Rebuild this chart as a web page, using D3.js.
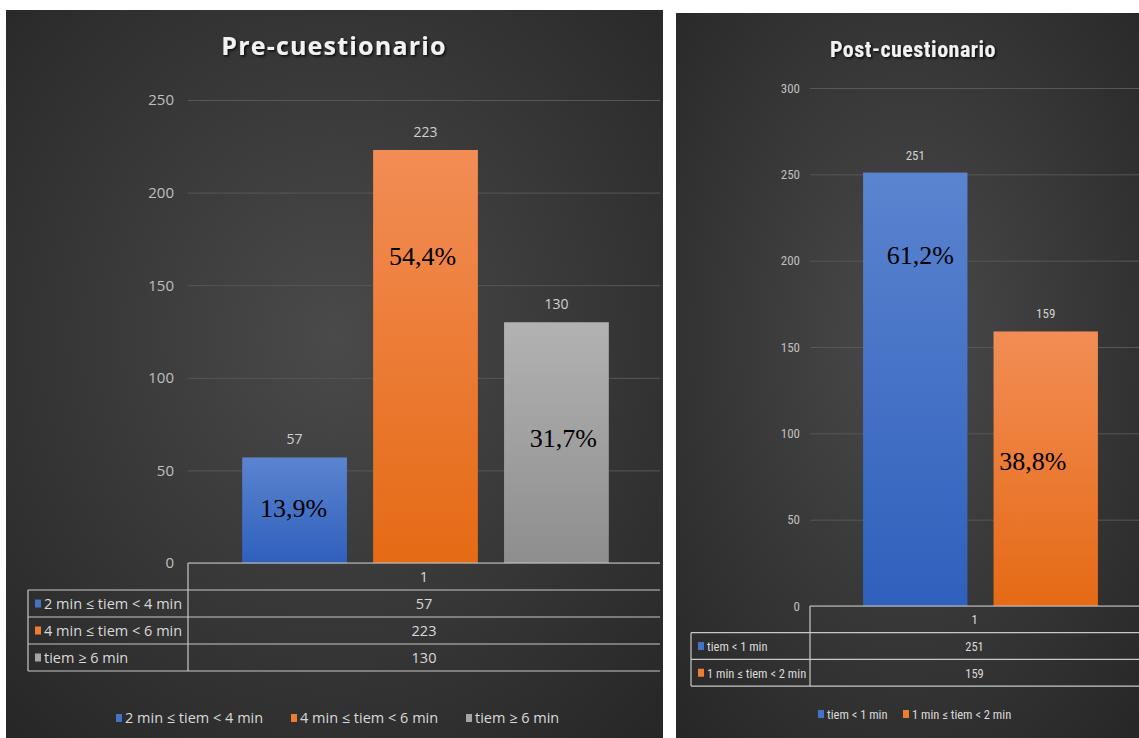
<!DOCTYPE html>
<html><head><meta charset="utf-8">
<script src="https://cdn.jsdelivr.net/npm/d3@7"></script>
<style>
html,body{margin:0;padding:0;background:#fff;}
svg{display:block;}
</style></head>
<body>
<svg id="c" width="1139" height="738"></svg>
<script>
// ---- data ----
const preTitle = "Pre-cuestionario";
const preCategories = ["2 min ≤ tiem < 4 min", "4 min ≤ tiem < 6 min", "tiem ≥ 6 min"];
const preValues = [57, 223, 130];
const prePercents = ["13,9%", "54,4%", "31,7%"];
const preTicks = [0, 50, 100, 150, 200, 250];
const preColors = [["#5b84d0", "#2f60bc"], ["#f28d55", "#e56a15"], ["#b2b2b2", "#8e8e8e"]];
const preSwatch = ["#4472c4", "#ed7d31", "#a5a5a5"];

const postTitle = "Post-cuestionario";
const postCategories = ["tiem < 1 min", "1 min ≤ tiem < 2 min"];
const postValues = [251, 159];
const postPercents = ["61,2%", "38,8%"];
const postTicks = [0, 50, 100, 150, 200, 250, 300];
const postColors = [["#5b84d0", "#2f60bc"], ["#f28d55", "#e56a15"]];
const postSwatch = ["#4472c4", "#ed7d31"];
const tableHeader = "1";

const svg = d3.select("#c");
const defs = svg.append("defs");

function radial(id) {
  const g = defs.append("radialGradient").attr("id", id).attr("cx", "50%").attr("cy", "45%").attr("r", "75%");
  g.append("stop").attr("offset", "0%").attr("stop-color", "#4a4a4a");
  g.append("stop").attr("offset", "100%").attr("stop-color", "#262626");
}
radial("bgL"); radial("bgR");

const shadow = defs.append("filter").attr("id", "tshadow").attr("x", "-10%").attr("y", "-30%").attr("width", "120%").attr("height", "160%");
shadow.append("feDropShadow").attr("dx", 1.5).attr("dy", 1.5).attr("stdDeviation", 1.2).attr("flood-color", "#000").attr("flood-opacity", 0.8);

function barGrad(id, c) {
  const g = defs.append("linearGradient").attr("id", id).attr("x1", 0).attr("y1", 0).attr("x2", 0).attr("y2", 1);
  g.append("stop").attr("offset", "0%").attr("stop-color", c[0]);
  g.append("stop").attr("offset", "100%").attr("stop-color", c[1]);
}

function drawPanel(o) {
  const g = svg.append("g");
  const tf = o.font;
  g.append("rect").attr("x", o.box[0]).attr("y", o.box[1]).attr("width", o.box[2]).attr("height", o.box[3]).attr("fill", `url(#${o.bg})`);
  g.append("text").attr("x", o.titleX).attr("y", o.titleY).attr("text-anchor", "middle")
    .attr("font-family", o.titleFont).attr("font-weight", "bold")
    .attr("font-size", o.titleSize).attr("letter-spacing", o.titleSpacing).attr("fill", "#f2f2f2")
    .attr("filter", "url(#tshadow)").text(o.title);

  const y = d3.scaleLinear().domain([0, d3.max(o.ticks)]).range([o.y0, o.yTop]);
  const x = d3.scaleBand().domain(o.categories).range([o.plotL, o.plotR]).paddingInner(o.padIn).paddingOuter(o.padOut);

  // gridlines
  const axis = d3.axisLeft(y).tickValues(o.ticks).tickSize(-(o.gridR - o.plotL0)).tickPadding(o.tickPad);
  const ag = g.append("g").attr("transform", `translate(${o.plotL0},0)`).call(axis);
  ag.select(".domain").remove();
  ag.selectAll(".tick line").attr("stroke", "#575757").attr("stroke-width", 1);
  ag.selectAll(".tick text").attr("fill", "#bfbfbf").attr("font-size", o.tickSize).attr("font-family", tf);

  // bars
  o.categories.forEach((c, i) => barGrad(o.id + "b" + i, o.colors[i]));
  g.selectAll("rect.bar").data(o.values).join("rect").attr("class", "bar")
    .attr("x", (d, i) => x(o.categories[i])).attr("width", x.bandwidth())
    .attr("y", d => y(d)).attr("height", d => y(0) - y(d))
    .attr("fill", (d, i) => `url(#${o.id}b${i})`);

  // value labels
  g.selectAll("text.val").data(o.values).join("text").attr("class", "val")
    .attr("x", (d, i) => x(o.categories[i]) + x.bandwidth() / 2).attr("y", d => y(d) - 13)
    .attr("text-anchor", "middle").attr("fill", "#d0d0d0").attr("font-size", o.valSize)
    .attr("font-family", tf).text(d => d);

  // percent labels
  g.selectAll("text.pct").data(o.percents).join("text").attr("class", "pct")
    .attr("x", (d, i) => x(o.categories[i]) + x.bandwidth() / 2 + o.pctDx[i])
    .attr("y", (d, i) => y(o.pctAt[i]) + 9)
    .attr("text-anchor", "middle").attr("fill", "#000").attr("font-size", 26)
    .attr("font-family", "'Liberation Serif','Times New Roman',serif").text(d => d);

  // data table
  const rowH = o.rowH;
  const tT = o.y0, tL = o.tableL, tM = o.plotL0, tR = o.gridR;
  const nRows = o.categories.length;
  const line = (x1, y1, x2, y2) => g.append("line").attr("x1", x1).attr("y1", y1).attr("x2", x2).attr("y2", y2)
    .attr("stroke", "#c8c8c8").attr("stroke-width", 1.2);
  line(tM, tT, tR, tT);
  line(tM, tT, tM, tT + rowH * (nRows + 1));
  for (let r = 1; r <= nRows + 1; r++) line(tL, tT + rowH * r, tR, tT + rowH * r);
  line(tL, tT + rowH, tL, tT + rowH * (nRows + 1));
  const cx = (tM + tR) / 2;
  g.append("text").attr("x", cx).attr("y", tT + rowH / 2 + 5).attr("text-anchor", "middle")
    .attr("fill", "#d9d9d9").attr("font-size", o.tableSize).attr("font-family", tf).text(tableHeader);
  o.categories.forEach((c, i) => {
    const ry = tT + rowH * (i + 1);
    g.append("rect").attr("x", tL + 7).attr("y", ry + rowH / 2 - 4).attr("width", 6).attr("height", 8).attr("fill", o.swatch[i]);
    g.append("text").attr("x", tL + 16).attr("y", ry + rowH / 2 + 5).attr("fill", "#d9d9d9")
      .attr("font-size", o.tableSize).attr("font-family", tf).text(c);
    g.append("text").attr("x", cx).attr("y", ry + rowH / 2 + 5).attr("text-anchor", "middle").attr("fill", "#d9d9d9")
      .attr("font-size", o.tableSize).attr("font-family", tf).text(o.values[i]);
  });

  // legend
  o.categories.forEach((c, i) => {
    const lx = o.legendX[i];
    g.append("rect").attr("x", lx).attr("y", o.legendY - 9).attr("width", 6).attr("height", 8).attr("fill", o.swatch[i]);
    g.append("text").attr("x", lx + 9).attr("y", o.legendY).attr("fill", "#d9d9d9")
      .attr("font-size", o.legendSize).attr("font-family", tf).text(c);
  });
}

drawPanel({
  id: "pre", bg: "bgL", box: [6, 10, 657, 728], title: preTitle, titleX: 334, titleY: 55, titleSize: 25, titleSpacing: 1.2,
  titleFont: "'Open Sans',sans-serif", font: "'Open Sans',sans-serif",
  categories: preCategories, values: preValues, percents: prePercents, ticks: preTicks, colors: preColors, swatch: preSwatch,
  y0: 563, yTop: 100, plotL0: 188, gridR: 660, plotL: 216, plotR: 635, padIn: 0.2, padOut: 0.2,
  tickPad: 14, tickSize: 15, valSize: 14,
  pctAt: [29.5, 166, 67.5], pctDx: [-1, -3, 7],
  tableL: 28, rowH: 27, tableSize: 14.5, legendX: [116, 291, 466], legendY: 723, legendSize: 14.5
});

drawPanel({
  id: "post", bg: "bgR", box: [676, 13, 463, 725], title: postTitle, titleX: 913, titleY: 57, titleSize: 22, titleSpacing: 0.5,
  titleFont: "'Roboto Condensed','Open Sans',sans-serif", font: "'Roboto Condensed','Open Sans',sans-serif",
  categories: postCategories, values: postValues, percents: postPercents, ticks: postTicks, colors: postColors, swatch: postSwatch,
  y0: 606, yTop: 88, plotL0: 810, gridR: 1139, plotL: 837, plotR: 1124, padIn: 0.2, padOut: 0.2,
  tickPad: 10, tickSize: 13, valSize: 13,
  pctAt: [203, 84], pctDx: [5, -13],
  tableL: 691, rowH: 26.7, tableSize: 12.5, legendX: [818, 903], legendY: 719, legendSize: 12.5
});
</script>
</body></html>
